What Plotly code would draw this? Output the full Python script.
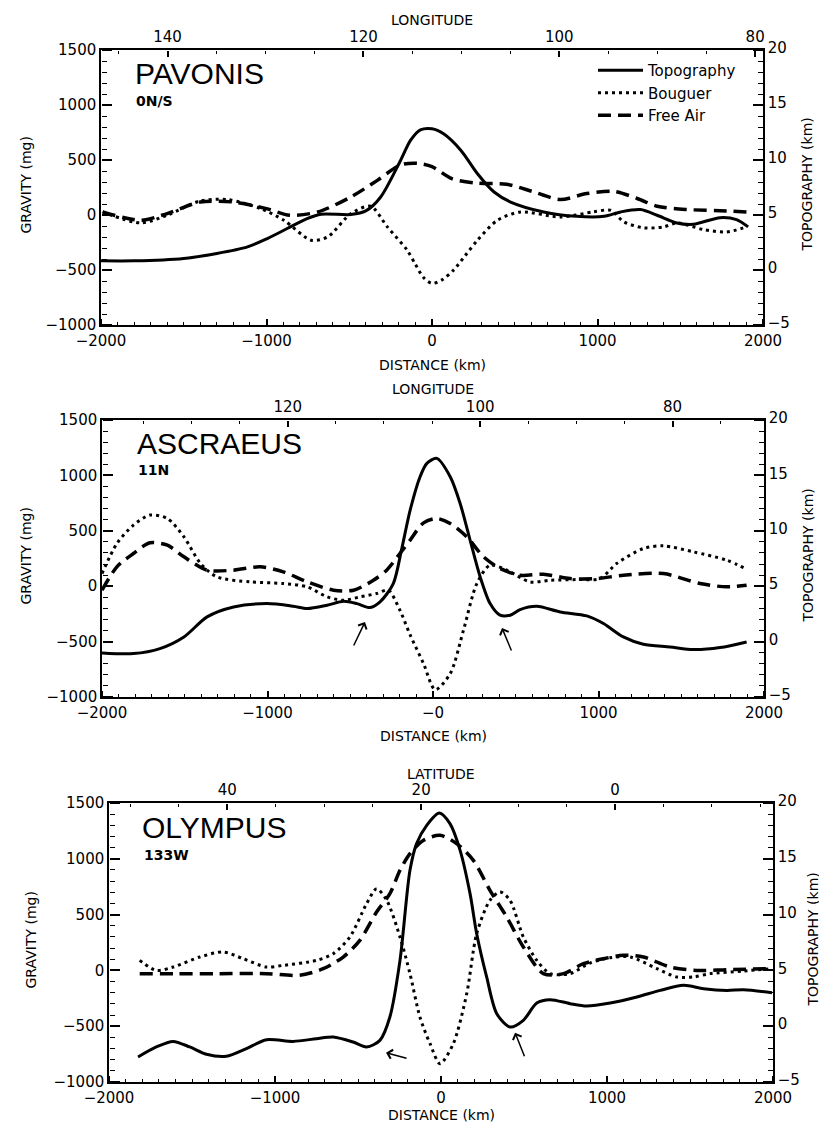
import plotly.graph_objects as go

W, H = 819, 1126

# ---------------- data ----------------
# PAVONIS (0N/S)
pav_topo_d = [-2000, -1800, -1500, -1300, -1115, -995, -875, -755, -670, -490, -400, -310, -190, -130, -70, 0, 70, 175, 275, 375, 475, 675, 875, 1040, 1140, 1260, 1360, 1480, 1580, 1740, 1840, 1910]
pav_topo_km = [0.83, 0.83, 1.05, 1.5, 2.1, 2.86, 3.77, 4.67, 5.07, 5.04, 5.37, 6.64, 9.96, 11.78, 12.74, 12.84, 12.38, 10.87, 8.75, 7.09, 6.18, 5.28, 4.88, 4.88, 5.28, 5.49, 4.98, 4.28, 4.16, 4.76, 4.58, 3.92]
pav_boug_d = [-1990, -1760, -1600, -1400, -1235, -1035, -895, -730, -630, -490, -370, -270, -150, -100, -50, 0, 60, 130, 200, 275, 395, 535, 775, 975, 1080, 1160, 1280, 1400, 1480, 1640, 1780, 1900]
pav_boug_mg = [28, -72, -2, 128, 140, 58, -48, -229, -199, 13, 79, -108, -320, -450, -570, -622, -590, -501, -370, -229, -48, 28, -18, 28, 43, -63, -117, -108, -72, -132, -154, -108]
pav_fa_d = [-1990, -1760, -1600, -1400, -1200, -1000, -860, -690, -490, -330, -190, -90, 0, 120, 270, 450, 605, 775, 935, 1100, 1240, 1360, 1540, 1780, 1900]
pav_fa_mg = [28, -48, 13, 118, 118, 58, -2, 28, 164, 315, 455, 470, 440, 330, 290, 280, 215, 140, 195, 215, 150, 80, 50, 37, 28]

# ASCRAEUS (11N)
asc_topo_d = [-2000, -1810, -1650, -1505, -1365, -1205, -1005, -845, -760, -640, -540, -460, -380, -320, -240, -190, -138, -78, -37, 23, 104, 164, 224, 285, 345, 405, 466, 526, 627, 768, 929, 1030, 1150, 1271, 1432, 1573, 1734, 1895]
asc_topo_km = [-1.02, -1.08, -0.63, 0.42, 2.23, 3.13, 3.43, 3.19, 2.98, 3.28, 3.64, 3.43, 3.07, 3.58, 5.24, 8.3, 11.87, 14.88, 16.08, 16.54, 14.88, 12.47, 9.16, 5.84, 3.43, 2.38, 2.38, 2.89, 3.19, 2.68, 2.32, 1.63, 0.42, -0.24, -0.48, -0.72, -0.54, -0.03]
asc_boug_d = [-2000, -1910, -1810, -1710, -1605, -1505, -1405, -1305, -1105, -905, -760, -640, -540, -440, -340, -270, -200, -138, -57, 13, 104, 184, 265, 345, 446, 587, 708, 869, 1009, 1110, 1271, 1392, 1573, 1774, 1895]
asc_boug_mg = [114, 385, 551, 642, 611, 446, 205, 84, 39, 24, -6, -96, -127, -96, -66, -36, -217, -440, -699, -934, -789, -398, 24, 190, 145, 39, 54, 60, 69, 205, 340, 364, 310, 235, 154]
asc_fa_d = [-2000, -1910, -1810, -1710, -1605, -1505, -1365, -1205, -1045, -905, -760, -600, -480, -360, -280, -200, -138, -57, 23, 104, 204, 305, 405, 526, 667, 828, 989, 1150, 1392, 1613, 1774, 1895]
asc_fa_mg = [-36, 175, 295, 392, 370, 265, 145, 145, 175, 130, 39, -36, -36, 54, 145, 295, 416, 572, 611, 566, 446, 265, 160, 99, 108, 69, 69, 99, 114, 24, -6, 9]

# OLYMPUS (133W)
oly_topo_d = [-1825, -1715, -1614, -1514, -1413, -1293, -1172, -1051, -891, -750, -649, -529, -448, -368, -308, -247, -187, -147, -86, -10, 54, 115, 175, 215, 275, 336, 416, 496, 577, 657, 778, 878, 1019, 1180, 1320, 1461, 1582, 1722, 1823, 1994]
oly_topo_km = [-2.76, -1.86, -1.36, -1.86, -2.52, -2.7, -2.01, -1.21, -1.36, -1.12, -0.97, -1.42, -1.86, -1.27, 0.82, 5.9, 13.97, 16.36, 18.0, 19.1, 18.15, 15.76, 11.88, 8.29, 4.41, 1.12, -0.07, 0.53, 2.08, 2.38, 2.02, 1.81, 2.08, 2.62, 3.21, 3.66, 3.36, 3.21, 3.27, 3.0]
oly_boug_d = [-1815, -1715, -1614, -1453, -1313, -1192, -1051, -951, -750, -649, -549, -448, -388, -327, -247, -187, -127, -66, -6, 74, 155, 215, 295, 356, 416, 496, 577, 657, 778, 898, 1019, 1140, 1300, 1421, 1521, 1622, 1823, 1994]
oly_boug_mg = [90, 0, 30, 120, 165, 105, 30, 45, 90, 150, 299, 598, 732, 628, 299, -29, -418, -657, -836, -657, -208, 329, 628, 703, 628, 299, 90, -29, -29, 66, 114, 120, 16, -59, -59, -29, -5, 16]
oly_fa_d = [-1815, -1594, -1353, -1051, -851, -710, -589, -489, -388, -308, -247, -187, -107, -6, 94, 195, 295, 396, 496, 617, 738, 858, 979, 1099, 1220, 1381, 1542, 1722, 1994]
oly_fa_mg = [-29, -29, -29, -29, -44, 15, 120, 269, 523, 688, 897, 1046, 1165, 1210, 1136, 986, 717, 478, 210, -29, -29, 60, 105, 135, 120, 30, 0, 7, 16]

# axes / ticks
distance_ticks = [-2000, -1000, 0, 1000, 2000]
distance_text_a = ["\u22122000", "\u22121000", "0", "1000", "2000"]
distance_text_b = ["\u22122000", "\u22121000", "\u22120", "1000", "2000"]

panels = [
    dict(name="PAVONIS", sub="0N/S", topo=(pav_topo_d, pav_topo_km), boug=(pav_boug_d, pav_boug_mg),
         fa=(pav_fa_d, pav_fa_mg), top_title="LONGITUDE", top_range=[146.8, 79.2],
         dist_text=distance_text_a, box=(101, 763, 50, 325), title_y=20, dist_y=365, grav_x=25, topo_x=807,
         name_xy=(133, 73), sub_xy=(134, 101)),
    dict(name="ASCRAEUS", sub="11N", topo=(asc_topo_d, asc_topo_km), boug=(asc_boug_d, asc_boug_mg),
         fa=(asc_fa_d, asc_fa_mg), top_title="LONGITUDE", top_range=[139.3, 70.5],
         dist_text=distance_text_b, box=(102, 764, 420, 697), title_y=389, dist_y=736, grav_x=25, topo_x=807,
         name_xy=(135, 443), sub_xy=(136, 470)),
    dict(name="OLYMPUS", sub="133W", topo=(oly_topo_d, oly_topo_km), boug=(oly_boug_d, oly_boug_mg),
         fa=(oly_fa_d, oly_fa_mg), top_title="LATITUDE", top_range=[52.2, -16.3],
         dist_text=distance_text_a, box=(109, 773, 803, 1082), title_y=774, dist_y=1115, grav_x=30, topo_x=812,
         name_xy=(140, 827), sub_xy=(142, 855)),
]

arrows = [
    (1, -411, -323, -12, 25),
    (1, 417, -377, 10, 24),
    (2, -331, -737, 22, 6),
    (2, 446, -558, 10, 25),
]


def px(x):
    return x / W


def py(y):
    return 1 - y / H


FONT = "DejaVu Sans"
tickfont = dict(family=FONT, size=15, color="black")

fig = go.Figure()
layout = dict(
    template="none",
    width=W, height=H, margin=dict(l=0, r=0, t=0, b=0, pad=0, autoexpand=False),
    paper_bgcolor="white", plot_bgcolor="rgba(0,0,0,0)",
    showlegend=True,
    legend=dict(x=px(593), y=py(54), xanchor="left", yanchor="top", bgcolor="rgba(0,0,0,0)",
                font=dict(family=FONT, size=15, color="black"), tracegroupgap=0, itemwidth=45),
)
annotations = []


def ax_name(prefix, n):
    return prefix + ("" if n == 1 else str(n))


for i, p in enumerate(panels):
    b = 4 * i
    XB, XT, XBT, XTT = b + 1, b + 2, b + 3, b + 4      # bottom labels, top labels, bottom ticks, top ticks
    YL, YR, YLT, YRT = b + 1, b + 2, b + 3, b + 4      # left labels, right labels, left ticks, right ticks
    x0, x1, y0, y1 = p["box"]

    label_axis = dict(showline=True, linecolor="black", linewidth=1.5, showgrid=False, zeroline=False,
                      automargin=False, ticks="", tickfont=tickfont)
    tick_axis = dict(showline=False, showgrid=False, zeroline=False, automargin=False, showticklabels=False,
                     ticks="outside", tickcolor="black", tickwidth=1.5)

    # label axes (frame + numbers)
    layout[ax_name("xaxis", XB)] = dict(label_axis, domain=[px(x0), px(x1)], range=[-2000, 2000],
                                        anchor=ax_name("y", YL), side="bottom", tickmode="array",
                                        tickvals=distance_ticks, ticktext=p["dist_text"], ticklabelstandoff=1)
    layout[ax_name("xaxis", XT)] = dict(label_axis, overlaying=ax_name("x", XB), side="top",
                                        anchor=ax_name("y", YL), range=p["top_range"], tickmode="linear",
                                        tick0=0, dtick=20)
    layout[ax_name("yaxis", YL)] = dict(label_axis, domain=[py(y1), py(y0)], range=[-1000, 1500],
                                        anchor=ax_name("x", XB), side="left", tickmode="linear", tick0=0,
                                        dtick=500)
    layout[ax_name("yaxis", YR)] = dict(label_axis, overlaying=ax_name("y", YL), side="right",
                                        anchor=ax_name("x", XB), range=[-5, 20], tickmode="linear", tick0=0,
                                        dtick=5, ticklabelshift=-2)
    # tick axes: placed on the opposite side so their outside ticks point into the frame
    layout[ax_name("xaxis", XBT)] = dict(tick_axis, overlaying=ax_name("x", XB), side="top", anchor="free",
                                         position=py(y1), range=[-2000, 2000], tickmode="linear", tick0=0,
                                         dtick=1000, ticklen=6,
                                         minor=dict(ticks="outside", dtick=100, tick0=0, ticklen=3,
                                                    tickwidth=1.2, tickcolor="black"))
    layout[ax_name("xaxis", XTT)] = dict(tick_axis, overlaying=ax_name("x", XB), side="bottom", anchor="free",
                                         position=py(y0), range=p["top_range"], tickmode="linear", tick0=0,
                                         dtick=20, ticklen=6,
                                         minor=dict(ticks="outside", dtick=5, tick0=0, ticklen=3,
                                                    tickwidth=1.2, tickcolor="black"))
    layout[ax_name("yaxis", YLT)] = dict(tick_axis, overlaying=ax_name("y", YL), side="right", anchor="free",
                                         position=px(x0), range=[-1000, 1500], tickmode="linear", tick0=0,
                                         dtick=500, ticklen=10,
                                         minor=dict(ticks="outside", dtick=100, tick0=0, ticklen=5,
                                                    tickwidth=1.2, tickcolor="black"))
    layout[ax_name("yaxis", YRT)] = dict(tick_axis, overlaying=ax_name("y", YL), side="left", anchor="free",
                                         position=px(x1), range=[-5, 20], tickmode="linear", tick0=0,
                                         dtick=5, ticklen=10,
                                         minor=dict(ticks="outside", dtick=1, tick0=0, ticklen=5,
                                                    tickwidth=1.2, tickcolor="black"))

    leg = (i == 0)
    fig.add_trace(go.Scatter(x=p["topo"][0], y=p["topo"][1], mode="lines", name="Topography",
                             line=dict(color="black", width=3, shape="spline", smoothing=0.8),
                             xaxis=ax_name("x", XB), yaxis=ax_name("y", YR), showlegend=leg, hoverinfo="skip"))
    fig.add_trace(go.Scatter(x=p["boug"][0], y=p["boug"][1], mode="lines", name="Bouguer",
                             line=dict(color="black", width=3, dash="3px,4px", shape="spline", smoothing=0.8),
                             xaxis=ax_name("x", XB), yaxis=ax_name("y", YL), showlegend=leg, hoverinfo="skip"))
    fig.add_trace(go.Scatter(x=p["fa"][0], y=p["fa"][1], mode="lines", name="Free Air",
                             line=dict(color="black", width=3.5, dash="13px,7px", shape="spline", smoothing=0.8),
                             xaxis=ax_name("x", XB), yaxis=ax_name("y", YL), showlegend=leg, hoverinfo="skip"))
    # empty traces so that the extra (label / tick) axes get drawn
    for xa, ya in [(XT, YL), (XBT, YL), (XTT, YL), (XB, YLT), (XB, YRT)]:
        fig.add_trace(go.Scatter(x=[], y=[], mode="lines", xaxis=ax_name("x", xa), yaxis=ax_name("y", ya),
                                 showlegend=False, hoverinfo="skip"))

    cx = (x0 + x1) / 2
    annotations += [
        dict(text=p["top_title"], x=px(cx), y=py(p["title_y"]), xref="paper", yref="paper", showarrow=False,
             xanchor="center", yanchor="middle", font=dict(family=FONT, size=14, color="black")),
        dict(text="DISTANCE (km)", x=px(cx), y=py(p["dist_y"]), xref="paper", yref="paper", showarrow=False,
             xanchor="center", yanchor="middle", font=dict(family=FONT, size=14, color="black")),
        dict(text="GRAVITY (mg)", x=px(p["grav_x"]), y=py((y0 + y1) / 2 - 2), xref="paper", yref="paper",
             showarrow=False, textangle=-90, xanchor="center", yanchor="middle",
             font=dict(family=FONT, size=14, color="black")),
        dict(text="TOPOGRAPHY (km)", x=px(p["topo_x"]), y=py((y0 + y1) / 2 - 3), xref="paper", yref="paper",
             showarrow=False, textangle=-90, xanchor="center", yanchor="middle",
             font=dict(family=FONT, size=14, color="black")),
        dict(text=p["name"], x=px(p["name_xy"][0]), y=py(p["name_xy"][1]), xref="paper", yref="paper",
             showarrow=False, xanchor="left", yanchor="middle",
             font=dict(family="Liberation Sans", size=30, color="black")),
        dict(text="<b>" + p["sub"] + "</b>", x=px(p["sub_xy"][0]), y=py(p["sub_xy"][1]), xref="paper", yref="paper",
             showarrow=False, xanchor="left", yanchor="middle",
             font=dict(family=FONT, size=14, color="black")),
    ]

for (pi, d, g, axp, ayp) in arrows:
    n = 4 * pi + 1
    annotations.append(dict(x=d, y=g, xref="x" + str(n), yref="y" + str(n), ax=axp, ay=ayp, axref="pixel",
                            ayref="pixel", showarrow=True, arrowhead=4, arrowsize=1.2, arrowwidth=1.5,
                            arrowcolor="black", text=""))

layout["annotations"] = annotations
fig.update_layout(**layout)
fig.write_html("out.html", post_script="document.body.style.margin='0px';",
               config={"displayModeBar": False})
